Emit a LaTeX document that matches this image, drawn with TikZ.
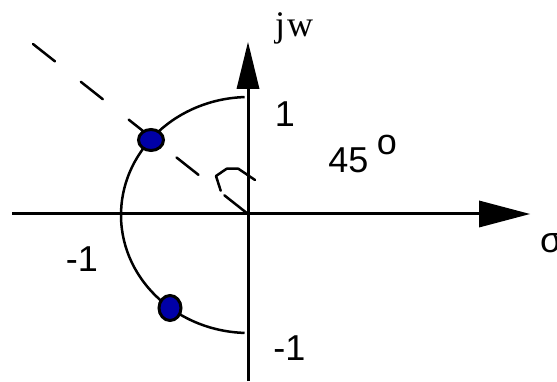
\documentclass[tikz,border=0pt]{standalone}
\usepackage{fontspec}
\setmainfont{Liberation Sans}
\newfontfamily\serifjw{Liberation Serif}
\usetikzlibrary{shapes.geometric}
\definecolor{dotblue}{RGB}{0,0,168}
\begin{document}
\begin{tikzpicture}[x=1pt,y=-1pt,
  axisline/.style={line width=3pt},
  tipfill/.style={fill=black,draw=none},
  arcline/.style={line width=2.5pt},
  dashline/.style={line width=2.5pt,line cap=round,dash pattern=on 28pt off 33pt},
  pole/.style={ellipse,draw=black,line width=3pt,fill=dotblue,inner sep=0pt},
  lbl/.style={inner sep=0pt,font=\fontsize{36}{40}\selectfont}]
\useasboundingbox (0,0) rectangle (557,382);
% coordinates
\coordinate (O) at (248,214);
\coordinate (xl) at (12,214);
\coordinate (xb) at (480,214);
\coordinate (xt) at (530,214);
\coordinate (yb) at (248,381);
\coordinate (ybase) at (248,88);
\coordinate (yt) at (248,42);
\coordinate (C) at (249,215);
\coordinate (dstart) at (33,44);
% axes
\draw[axisline] (xl) -- (xb);
\fill[tipfill] (479,200.5) -- (xt) -- (479,227.5) -- cycle;
\draw[axisline] (yb) -- (ybase);
\fill[tipfill] (236.5,89) -- (yt) -- (259.5,89) -- cycle;
% half circle
\draw[arcline] ([shift={(92:128 and 118)}]C) arc[start angle=92, end angle=268, x radius=128, y radius=118];
% dashed 45 deg line
\draw[dashline] (dstart) -- (O);
% angle mark
\draw[line width=2.5pt,line cap=round,line join=round] (220.7,190.7) -- (216,176) -- (226.7,168.7) -- (238.3,168.7) -- (255,180);
% poles
\node[pole,minimum width=25pt,minimum height=21pt] (p1) at (151,140) {};
\node[pole,minimum width=22pt,minimum height=25pt] (p2) at (170,308) {};
% labels
\node[lbl,anchor=base west] (jw) at (275,37) {\serifjw j\kern2pt w};
\node[lbl,anchor=base] (one) at (285,127) {1};
\node[lbl,anchor=base] (deg) at (348.5,173) {45};
\node[lbl,anchor=base] (o) at (387,155) {o};
\node[lbl,anchor=base] (m1l) at (82,272) {-1};
\node[lbl,anchor=base] (m1b) at (289.5,360) {-1};
\node[lbl,anchor=base west] (sigma) at (540,253) {σ};
\end{tikzpicture}
\end{document}
